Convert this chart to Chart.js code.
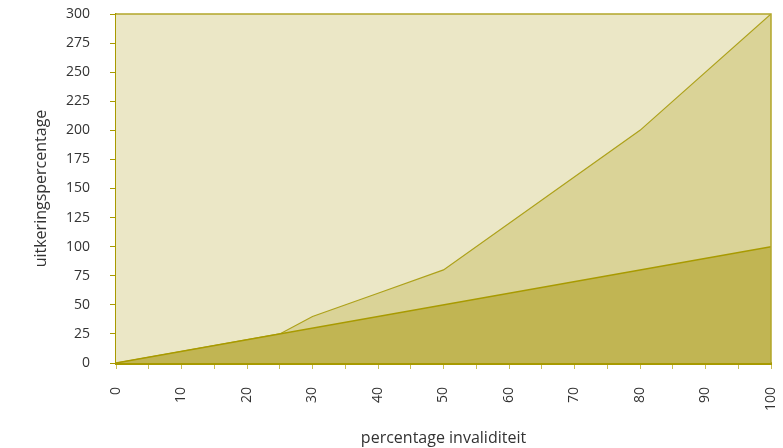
<!DOCTYPE html>
<html>
<head>
<meta charset="utf-8">
<script src="https://cdn.jsdelivr.net/npm/chart.js@4.4.1/dist/chart.umd.min.js"></script>
<style>
  html, body { margin: 0; padding: 0; background: #fff; }
  #wrap { width: 783px; height: 448px; }
</style>
</head>
<body>
<div id="wrap"><canvas id="c" width="783" height="448"></canvas></div>
<script>
// ---- data ----
const invaliditeit = [0, 25, 30, 40, 50, 80, 100];
const uitkeringHoog = [0, 25, 40, 60, 80, 200, 300];
const lijnX = [0, 100];
const uitkeringBasis = [0, 100];
const yMax = 300;

// kleuren
const OLIVE = '#A89A00';
const LINE = '#ADA11A';

function pts(xs, ys) { return xs.map((x, i) => ({ x: x, y: ys[i] })); }

// achtergrond + rand van het plotvlak
const plotFrame = {
  id: 'plotFrame',
  beforeDatasetsDraw(chart) {
    const a = chart.chartArea, ctx = chart.ctx;
    ctx.save();
    ctx.fillStyle = '#EBE7C6';
    ctx.fillRect(a.left, a.top, a.right - a.left, a.bottom - a.top);
    ctx.restore();
  },
  afterDatasetsDraw(chart) {
    const a = chart.chartArea, ctx = chart.ctx;
    ctx.save();
    ctx.strokeStyle = '#B3A72A';
    ctx.lineWidth = 1.5;
    ctx.beginPath();
    ctx.moveTo(a.left, a.top); ctx.lineTo(a.right, a.top); ctx.lineTo(a.right, a.bottom);
    ctx.stroke();
    ctx.restore();
  }
};

const font = { family: "'Open Sans', 'Noto Sans', sans-serif", size: 14 };

new Chart(document.getElementById('c'), {
  type: 'line',
  data: {
    datasets: [
      { label: 'basis', data: pts(lijnX, uitkeringBasis), fill: 'origin',
        backgroundColor: '#C1B553', borderColor: OLIVE, borderWidth: 1.5, pointRadius: 0, tension: 0 },
      { label: 'hoog', data: pts(invaliditeit, uitkeringHoog), fill: 'origin',
        backgroundColor: '#DAD397', borderColor: LINE, borderWidth: 1.2, pointRadius: 0, tension: 0 }
    ]
  },
  options: {
    responsive: false,
    animation: false,
    layout: { padding: { top: 14, right: 12, left: 0, bottom: 0 } },
    plugins: { legend: { display: false }, tooltip: { enabled: false } },
    scales: {
      x: {
        type: 'linear', min: 0, max: 100,
        afterFit(s) { s.height = 85; s.paddingLeft = 0; s.paddingRight = 0; },
        border: { color: OLIVE, width: 3 },
        grid: { drawOnChartArea: false, drawTicks: true, tickLength: 6, color: '#C9BE55', lineWidth: 1 },
        ticks: {
          stepSize: 5, autoSkip: false, minRotation: 90, maxRotation: 90, padding: 18,
          color: '#333', font: font,
          callback: v => (v % 10 === 0 ? String(v) : '')
        },
        title: { display: true, text: 'percentage invaliditeit', color: '#333',
                 font: { family: font.family, size: 16 }, padding: { top: 6, bottom: 0 } }
      },
      y: {
        min: 0, max: yMax,
        afterFit(s) { s.width = 116; s.paddingTop = 0; s.paddingBottom = 0; },
        border: { color: OLIVE, width: 1.5 },
        grid: { drawOnChartArea: false, drawTicks: true, tickLength: 6, color: OLIVE, lineWidth: 1 },
        ticks: { stepSize: 25, padding: 20, color: '#333', font: font },
        title: { display: true, text: 'uitkeringspercentage', color: '#333',
                 font: { family: font.family, size: 16 }, padding: { top: 32, bottom: 0 } }
      }
    }
  },
  plugins: [plotFrame]
});
</script>
</body>
</html>
